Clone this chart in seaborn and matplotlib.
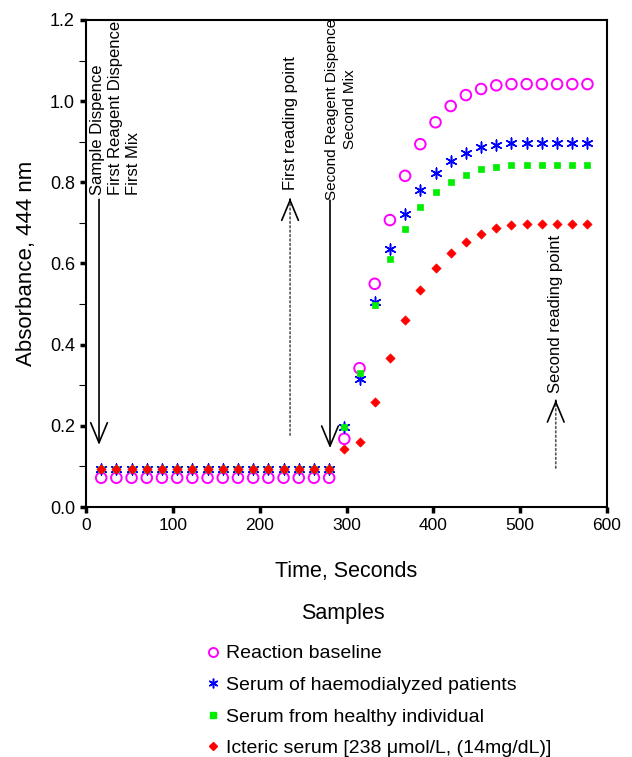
import numpy as np
import pandas as pd
import matplotlib
matplotlib.use("Agg")
import matplotlib.pyplot as plt
from matplotlib.lines import Line2D
from matplotlib.ticker import MultipleLocator, FormatStrFormatter
import seaborn as sns

# Sampling times (s)
time_s = [17.5, 35, 52.5, 70, 87.5, 105, 122.5, 140, 157.5, 175, 192.5, 210,
          227.5, 245, 262.5, 280, 297.5, 315, 332.5, 350, 367.5, 385, 402.5,
          420, 437.5, 455, 472.5, 490, 507.5, 525, 542.5, 560, 577.5]

# Absorbance at 444 nm for each sample
baseline = [0.072] * 16 + [0.168, 0.342, 0.550, 0.707, 0.816, 0.894, 0.948,
                           0.988, 1.015, 1.030, 1.039, 1.042, 1.042, 1.042,
                           1.042, 1.042, 1.042]
haemodialyzed = [0.093] * 16 + [0.198, 0.315, 0.505, 0.635, 0.721, 0.781,
                                0.822, 0.853, 0.872, 0.886, 0.893, 0.896,
                                0.896, 0.896, 0.896, 0.896, 0.896]
healthy = [0.093] * 16 + [0.198, 0.329, 0.498, 0.611, 0.686, 0.738, 0.775,
                          0.801, 0.818, 0.832, 0.839, 0.842, 0.842, 0.842,
                          0.842, 0.842, 0.842]
icteric = [0.093] * 16 + [0.144, 0.161, 0.259, 0.368, 0.462, 0.534, 0.588,
                          0.625, 0.652, 0.673, 0.687, 0.695, 0.697, 0.697,
                          0.697, 0.697, 0.697]

labels = ["Reaction baseline",
          "Serum of haemodialyzed patients",
          "Serum from healthy individual",
          "Icteric serum [238 \u03bcmol/L, (14mg/dL)]"]

sns.set_style("ticks")
plt.rcParams["font.family"] = ["Liberation Sans", "DejaVu Sans"]
plt.rcParams.update({"text.color": "black", "axes.labelcolor": "black",
                     "xtick.color": "black", "ytick.color": "black"})

fig = plt.figure(figsize=(6.32, 7.57), dpi=100)
W, H = 632, 757
ax = fig.add_axes([86 / W, 1 - 507 / H, (607 - 86) / W, (507 - 20) / H])

ASTERISK = (6, 2, 0)

df = pd.DataFrame({"t": time_s, "base": baseline, "haemo": haemodialyzed,
                   "healthy": healthy, "icteric": icteric})

sns.scatterplot(data=df, x="t", y="base", ax=ax, marker="o", s=58,
                facecolor="none", edgecolor="#ff00ff", linewidth=1.4, zorder=3)
sns.scatterplot(data=df, x="t", y="haemo", ax=ax, marker=ASTERISK, s=60,
                color="#0000ff", linewidth=1.1, zorder=4)
sns.scatterplot(data=df, x="t", y="healthy", ax=ax, marker="s", s=16,
                color="#00ee00", edgecolor="#00ee00", linewidth=0.5, zorder=5)
sns.scatterplot(data=df, x="t", y="icteric", ax=ax, marker="D", s=22,
                color="#ff0000", edgecolor="#ff0000", linewidth=0.5, zorder=6)

ax.set_xlim(0, 600)
ax.set_ylim(0, 1.2)
ax.xaxis.set_major_locator(MultipleLocator(100))
ax.yaxis.set_major_locator(MultipleLocator(0.2))
ax.yaxis.set_minor_locator(MultipleLocator(0.1))
ax.yaxis.set_major_formatter(FormatStrFormatter("%.1f"))

for side in ["left", "right", "top", "bottom"]:
    ax.spines[side].set_visible(True)
    ax.spines[side].set_linewidth(1.5)
    ax.spines[side].set_color("black")

ax.tick_params(axis="both", which="major", direction="out", length=4,
               width=2.5, color="black", labelsize=13, pad=4)
ax.tick_params(axis="y", which="minor", direction="out", length=5,
               width=0.8, color="black")
ax.tick_params(axis="x", labelsize=12.5, pad=4)

ax.set_xlabel("Time, Seconds", fontsize=15.5, labelpad=20)
ax.set_ylabel("Absorbance, 444 nm", fontsize=16, labelpad=9)

# Event markers along the reaction
head_style = "->,head_length=1.2,head_width=0.5"
arrow_kw = dict(arrowstyle=head_style, color="black", lw=1.2,
                shrinkA=0, shrinkB=0, mutation_scale=12)
dot_kw = dict(arrowstyle="-", color="#555555", lw=1.2, linestyle=":",
              shrinkA=0, shrinkB=0)


def dotted_arrow(x, y_tip, y_tail):
    # dotted shaft with a solid open head
    ax.annotate("", xy=(x, y_tip), xytext=(x, y_tail), arrowprops=dot_kw)
    step = 0.004 if y_tip > y_tail else -0.004
    ax.annotate("", xy=(x, y_tip), xytext=(x, y_tip - step),
                arrowprops=arrow_kw)


ax.annotate("", xy=(15, 0.153), xytext=(15, 0.758), arrowprops=arrow_kw)
ax.text(34.5, 0.769, "Sample Dispence\nFirst Reagent Dispence\nFirst Mix",
        rotation=90, ha="center", va="bottom", multialignment="left",
        fontsize=12, linespacing=1.25)

dotted_arrow(235, 0.761, 0.177)
ax.text(236, 0.781, "First reading point", rotation=90, ha="center",
        va="bottom", fontsize=12)

ax.annotate("", xy=(281, 0.145), xytext=(281, 0.756), arrowprops=arrow_kw)
ax.text(293.5, 0.756, "Second Reagent Dispence\nSecond Mix", rotation=90,
        ha="center", va="bottom", multialignment="center", fontsize=11,
        linespacing=1.3)

dotted_arrow(541, 0.264, 0.096)
ax.text(541, 0.281, "Second reading point", rotation=90, ha="center",
        va="bottom", fontsize=12)

# Legend below the axes
handles = [
    Line2D([], [], linestyle="none", marker="o", markersize=6.5,
           markerfacecolor="none", markeredgecolor="#ff00ff",
           markeredgewidth=1.4),
    Line2D([], [], linestyle="none", marker=ASTERISK, markersize=7,
           color="#0000ff", markeredgewidth=1.1),
    Line2D([], [], linestyle="none", marker="s", markersize=4,
           color="#00ee00"),
    Line2D([], [], linestyle="none", marker="D", markersize=4.5,
           color="#ff0000"),
]
fig.text(343 / W, 1 - 613 / H, "Samples", ha="center", va="center",
         fontsize=15.5)
fig.legend(handles, labels, loc="upper left",
           bbox_to_anchor=(196 / W, 1 - 635 / H),
           bbox_transform=fig.transFigure, frameon=False, fontsize=14,
           handlelength=0.7, handletextpad=0.35, borderpad=0,
           labelspacing=0.72)

fig.savefig("out.png", dpi=100)
